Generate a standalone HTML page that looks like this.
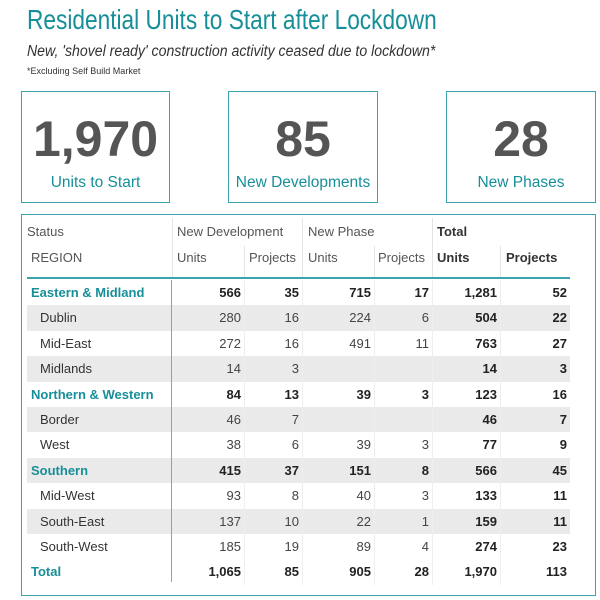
<!DOCTYPE html>
<html><head><meta charset="utf-8"><style>
body{margin:0;width:600px;height:600px;background:#fff;font-family:"Liberation Sans",sans-serif;position:relative;overflow:hidden}
.a{position:absolute;white-space:nowrap;transform-origin:left top}
.kpi{position:absolute;border:1px solid #3aa3ad;box-sizing:border-box;top:91px;height:112px}
.kpi .n{position:absolute;left:0;right:0;top:18px;text-align:center;font-size:50px;font-weight:bold;color:#555}
.kpi .l{position:absolute;left:0;right:0;top:82px;text-align:center;font-size:15.5px;color:#178f99}
</style></head><body>
<div class="a" style="left:27px;top:4px;font-size:28px;color:#178f99;transform:scaleX(0.81)">Residential Units to Start after Lockdown</div>
<div class="a" style="left:27px;top:43px;font-size:15.5px;font-style:italic;color:#333;transform:scaleX(0.91)">New, 'shovel ready' construction activity ceased due to lockdown*</div>
<div class="a" style="left:27px;top:66px;font-size:9.5px;color:#333;transform:scaleX(0.95)">*Excluding Self Build Market</div>
<div class="kpi" style="left:21px;width:149px"><div class="n">1,970</div><div class="l">Units to Start</div></div>
<div class="kpi" style="left:228px;width:150px"><div class="n">85</div><div class="l">New Developments</div></div>
<div class="kpi" style="left:446px;width:150px"><div class="n">28</div><div class="l">New Phases</div></div>
<div id="tbl" style="position:absolute;left:21px;top:214px;width:575px;height:382px;border:1px solid #3aa3ad;box-sizing:border-box"></div>
<script>
const regions=["Eastern & Midland","Dublin","Mid-East","Midlands","Northern & Western","Border","West","Southern","Mid-West","South-East","South-West","Total"];
const isGroup=[1,0,0,0,1,0,0,1,0,0,0,1];
const ndUnits=["566","280","272","14","84","46","38","415","93","137","185","1,065"];
const ndProj=["35","16","16","3","13","7","6","37","8","10","19","85"];
const npUnits=["715","224","491","","39","","39","151","40","22","89","905"];
const npProj=["17","6","11","","3","","3","8","3","1","4","28"];
const totUnits=["1,281","504","763","14","123","46","77","566","133","159","274","1,970"];
const totProj=["52","22","27","3","16","7","9","45","11","11","23","113"];
const colR=[241,299,371,429,497,567];
const body=document.body;
function add(tag,css,txt,name){const e=document.createElement(tag);e.style.cssText=css;if(txt!==undefined)e.textContent=txt;


body.appendChild(e);return e;}
add('div','position:absolute;left:27px;top:222px;font-size:13px;color:#555;line-height:20px','Status','header-status');
add('div','position:absolute;left:31px;top:248px;font-size:13px;color:#555;line-height:20px','REGION','header-region');
[['New Development',177],['New Phase',308]].forEach(h=>add('div','position:absolute;left:'+h[1]+'px;top:222px;font-size:13px;color:#555;line-height:20px',h[0],'header-group'));
add('div','position:absolute;left:437px;top:222px;font-size:13px;color:#333;font-weight:bold;line-height:20px','Total','header-total');
const sub=[['Units',177,0],['Projects',249,0],['Units',308,0],['Projects',378,0],['Units',437,1],['Projects',506,1]];
sub.forEach(s=>add('div','position:absolute;left:'+s[1]+'px;top:248px;font-size:13px;line-height:20px;color:'+(s[2]?'#333;font-weight:bold':'#555'),s[0],'header-sub'));
[172,302,432].forEach(x=>add('div','position:absolute;left:'+x+'px;top:218px;width:1px;height:60px;background:#e4e4e4','','header-sep'));
[244,374,500].forEach(x=>add('div','position:absolute;left:'+x+'px;top:246px;width:1px;height:32px;background:#e4e4e4','','header-sep'));
const top0=280,rh=25.4;
regions.forEach((r,i)=>{
 const y=top0+i*rh;
 if(i%2==1&&i<11)add('div','position:absolute;left:27px;top:'+y+'px;width:543px;height:'+rh+'px;background:#ebeaeb','','row-stripe');
});
[244,302,374,432,500].forEach(x=>add('div','position:absolute;left:'+x+'px;top:280px;width:1px;height:'+(rh*12)+'px;background:#eeeeee','','col-sep'));
add('div','position:absolute;left:27px;top:277px;width:543px;height:2px;background:#3aa3ad','','header-line');
add('div','position:absolute;left:171px;top:280px;width:1px;height:'+(rh*12-3)+'px;background:#5fb5bd','','region-sep');
regions.forEach((r,i)=>{
 const y=top0+i*rh;const g=isGroup[i];
 add('div','position:absolute;top:'+y+'px;line-height:'+rh+'px;font-size:13px;left:'+(g?31:40)+'px;'+(g?'color:#178f99;font-weight:bold':'color:#333'),r,'region-label');
 const vals=[ndUnits[i],ndProj[i],npUnits[i],npProj[i],totUnits[i],totProj[i]];
 vals.forEach((v,j)=>{
  const bold=g||j>=4;
  add('div','position:absolute;top:'+y+'px;line-height:'+rh+'px;font-size:13px;right:'+(600-colR[j])+'px;color:'+(bold?'#222;font-weight:bold':'#444'),v,'cell-value');
 });
});
</script>
</body></html>
